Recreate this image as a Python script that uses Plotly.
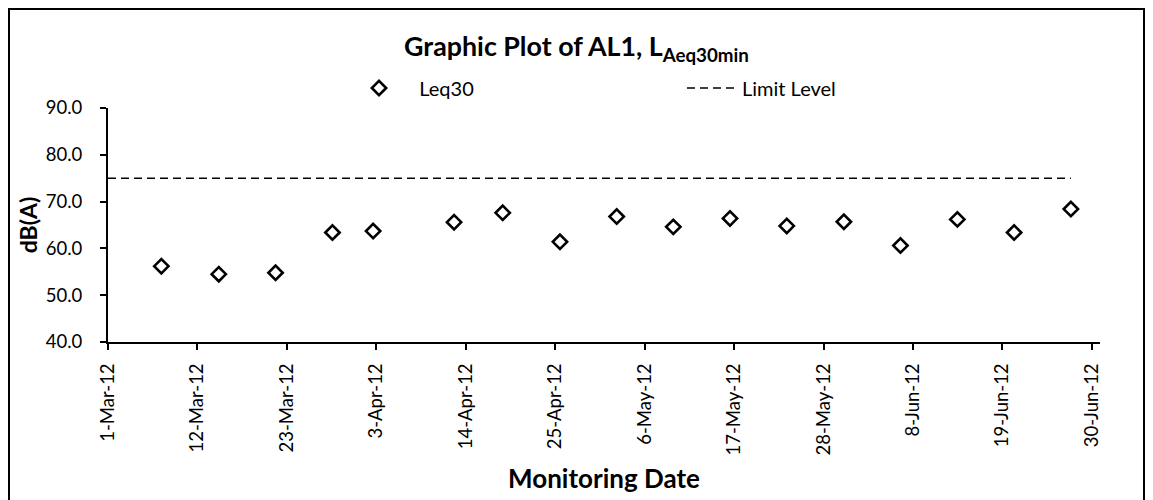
import plotly.graph_objects as go

# Data
dates = [
    "2012-03-07 13:30", "2012-03-14 15:00", "2012-03-21 14:30", "2012-03-28 14:30",
    "2012-04-02 14:30", "2012-04-12 13:30", "2012-04-18 13:00", "2012-04-25 14:00",
    "2012-05-02 13:30", "2012-05-09 12:30", "2012-05-16 12:00", "2012-05-23 11:30",
    "2012-05-30 12:00", "2012-06-06 11:00", "2012-06-13 11:00", "2012-06-20 10:30",
    "2012-06-27 10:00",
]
leq30 = [56.2, 54.5, 54.8, 63.4, 63.7, 65.6, 67.6, 61.4, 66.8, 64.6,
         66.4, 64.8, 65.7, 60.6, 66.2, 63.4, 68.4]

limit_dates = ["2012-03-01", "2012-06-27 10:00"]
limit_values = [75.0, 75.0]

tick_vals = ["2012-03-01", "2012-03-12", "2012-03-23", "2012-04-03", "2012-04-14",
             "2012-04-25", "2012-05-06", "2012-05-17", "2012-05-28", "2012-06-08",
             "2012-06-19", "2012-06-30"]
tick_text = ["1-Mar-12", "12-Mar-12", "23-Mar-12", "3-Apr-12", "14-Apr-12",
             "25-Apr-12", "6-May-12", "17-May-12", "28-May-12", "8-Jun-12",
             "19-Jun-12", "30-Jun-12"]

FONT = "Lato"

fig = go.Figure()
fig.add_trace(go.Scatter(
    x=dates, y=leq30, mode="markers", name="\u00a0\u00a0Leq30",
    marker=dict(symbol="diamond-open", size=11, color="black",
                line=dict(width=2.6, color="black")),
))
fig.add_trace(go.Scatter(
    x=limit_dates, y=limit_values, mode="lines", name="Limit Level",
    line=dict(color="black", width=1.5, dash="8px,5px"),
))

# page body has an 8px margin; figure fills the remaining width
W, H = 1137, 492
ml, mr, mt, mb = 100, 45, 100, 158
pw, ph = W - ml - mr, H - mt - mb

fig.update_layout(
    width=W, height=H,
    margin=dict(l=ml, r=mr, t=mt, b=mb, autoexpand=False),
    paper_bgcolor="white", plot_bgcolor="white",
    font=dict(family=FONT, size=18, color="black"),
    title=dict(text="<b>Graphic Plot of AL1, L<sub>Aeq30min</sub></b>",
               x=0.5, xanchor="center", y=1 - 38.5 / H, yanchor="middle",
               font=dict(family=FONT, size=26.8, color="black")),
    showlegend=True,
    legend=dict(orientation="h", x=241 / pw, xanchor="left",
                y=(ph + mt - 80) / ph, yanchor="middle",
                font=dict(family=FONT, size=20, color="black"),
                itemwidth=50, entrywidth=268, bgcolor="rgba(0,0,0,0)"),
    xaxis=dict(
        type="date", range=["2012-03-01", "2012-07-01"], automargin=False,
        tickmode="array", tickvals=tick_vals, ticktext=tick_text,
        tickangle=-90, ticks="outside", ticklen=6, tickwidth=2, tickcolor="black",
        ticklabelstandoff=6,
        showline=True, linecolor="black", linewidth=2, showgrid=False, zeroline=False,
        title=dict(text="<b>Monitoring Date</b>", font=dict(family=FONT, size=26), standoff=15),
        tickfont=dict(family=FONT, size=18.5),
    ),
    yaxis=dict(
        range=[40, 90], dtick=10, tickformat=".1f", automargin=False,
        ticks="outside", ticklen=6, tickwidth=2, tickcolor="black",
        ticklabelstandoff=14,
        showline=True, linecolor="black", linewidth=2, showgrid=False, zeroline=False,
        title=dict(text="<b>dB(A)</b>", font=dict(family=FONT, size=23), standoff=2),
        tickfont=dict(family=FONT, size=18.5),
    ),
)

# outer chart border (bottom edge falls below the visible page)
fig.add_shape(type="rect", xref="paper", yref="paper",
              x0=(1 - ml) / pw, x1=(W - 1 - ml) / pw,
              y0=(ph + mt - H - 20) / ph, y1=(ph + mt - 1) / ph,
              line=dict(color="black", width=2), fillcolor="rgba(0,0,0,0)", layer="below")

fig.write_html("out.html")
